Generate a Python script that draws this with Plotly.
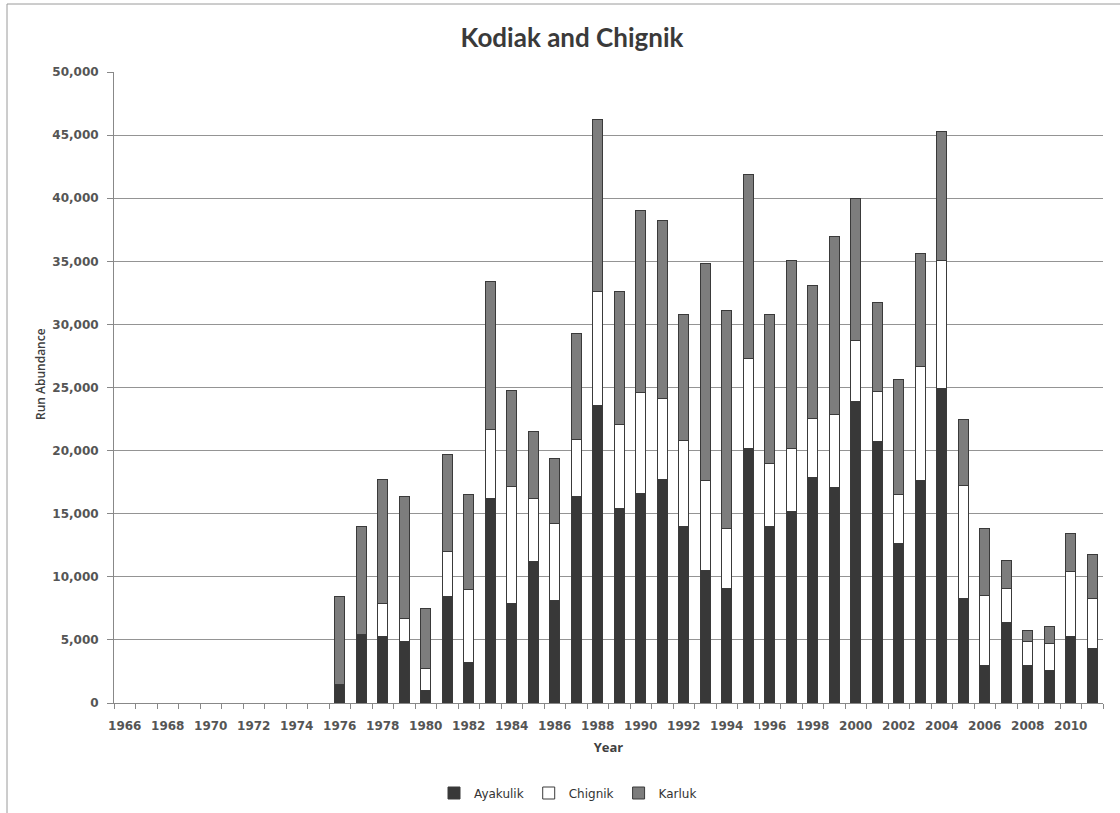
import plotly.graph_objects as go

# Run abundance by year and stock (stacked)
years = list(range(1966, 2012))

ayakulik = [0] * 10 + [
    1500, 5400, 5300, 4850, 1000, 8400, 3200, 16200, 7850, 11200,
    8100, 16400, 23550, 15400, 16600, 17700, 14000, 10500, 9100, 20150,
    14000, 15200, 17850, 17050, 23900, 20700, 12650, 17600, 24950, 8300,
    3000, 6400, 3000, 2600, 5300, 4300,
]
chignik = [0] * 10 + [
    0, 0, 2550, 1850, 1700, 3600, 5800, 5450, 9300, 5000,
    6150, 4450, 9050, 6700, 8000, 6400, 6800, 7100, 4700, 7150,
    5000, 5000, 4700, 5850, 4800, 4000, 3850, 9100, 10100, 8900,
    5500, 2700, 1850, 2150, 5100, 4000,
]
karluk = [0] * 10 + [
    6900, 8600, 9900, 9700, 4800, 7700, 7500, 11750, 7650, 5300,
    5150, 8400, 13600, 10500, 14400, 14100, 10000, 17200, 17300, 14600,
    11800, 14900, 10550, 14100, 11300, 7000, 9100, 8900, 10250, 5300,
    5300, 2200, 900, 1300, 3050, 3500,
]

x_labels = list(range(1966, 2011, 2))
y_ticks = list(range(0, 50001, 5000))

W, H = 1120, 813
ML, MR, MT, MB = 114, 17, 72, 110
PW, PH = W - ML - MR, H - MT - MB


def px_x(p):
    return (p - ML) / PW


def px_y(p):
    return (H - MB - p) / PH


series = [
    ("Ayakulik", ayakulik, "#383838"),
    ("Chignik", chignik, "#ffffff"),
    ("Karluk", karluk, "#7d7d7d"),
]

fig = go.Figure()
for name, vals, color in series:
    fig.add_trace(go.Bar(
        x=years, y=vals, name=name,
        marker=dict(color=color, line=dict(color="#3a3a3a", width=1)),
        width=0.47,
    ))

axis_font = dict(family="DejaVu Sans, Verdana, sans-serif", size=12, color="#555555", weight="bold")

fig.update_layout(
    width=W, height=H,
    margin=dict(l=ML, r=MR, t=MT, b=MB, autoexpand=False),
    barmode="stack",
    plot_bgcolor="white", paper_bgcolor="white",
    font=dict(family="DejaVu Sans, sans-serif", color="#404040"),
    title=dict(
        text="<b>Kodiak and Chignik</b>",
        font=dict(family="Lato, Open Sans, sans-serif", size=26, color="#3a3a3a"),
        x=px_x(572), xref="paper", xanchor="center",
        y=1 - 38 / H, yref="container", yanchor="middle",
    ),
    showlegend=True,
    legend=dict(
        orientation="h", x=px_x(568), xanchor="center",
        y=px_y(793), yanchor="middle",
        font=dict(family="DejaVu Sans, sans-serif", size=12, color="#333333"),
        itemwidth=30, traceorder="normal",
    ),
)

fig.update_xaxes(
    range=[1965.5, 2011.5], automargin=False,
    tickmode="array", tickvals=x_labels, ticktext=[str(v) for v in x_labels],
    ticks="", tickfont=axis_font, ticklabelstandoff=12,
    showline=True, linecolor="#888888", linewidth=1,
    showgrid=False, zeroline=False,
    minor=dict(
        tickmode="array", tickvals=[y - 0.5 for y in years] + [2011.5],
        ticks="outside", ticklen=5, tickcolor="#888888", showgrid=False,
    ),
    title=dict(text="<b>Year</b>", font=dict(family="Open Sans, Lato, sans-serif", size=13, color="#404040"), standoff=10),
)

fig.update_yaxes(
    range=[0, 50000], automargin=False,
    tickmode="array", tickvals=y_ticks, ticktext=[f"{v:,}" for v in y_ticks],
    ticks="outside", ticklen=6, tickcolor="#888888", ticklabelstandoff=6,
    tickfont=axis_font,
    showline=True, linecolor="#888888", linewidth=1,
    showgrid=True, gridcolor="#949494", gridwidth=1,
    zeroline=False,
)

# y-axis title
fig.add_annotation(
    text="Run Abundance", textangle=-90, showarrow=False,
    xref="paper", yref="paper", x=px_x(40), y=px_y(374),
    xanchor="center", yanchor="middle",
    font=dict(family="Open Sans, Lato, sans-serif", size=12, color="#404040", weight=600),
)

# outer chart frame (left and top edges)
fig.add_shape(
    type="rect", xref="paper", yref="paper",
    x0=px_x(7), x1=px_x(1140), y0=px_y(830), y1=px_y(4),
    line=dict(color="#9a9a9a", width=1), fillcolor="rgba(0,0,0,0)", layer="below",
)

fig.write_html("out.html")
